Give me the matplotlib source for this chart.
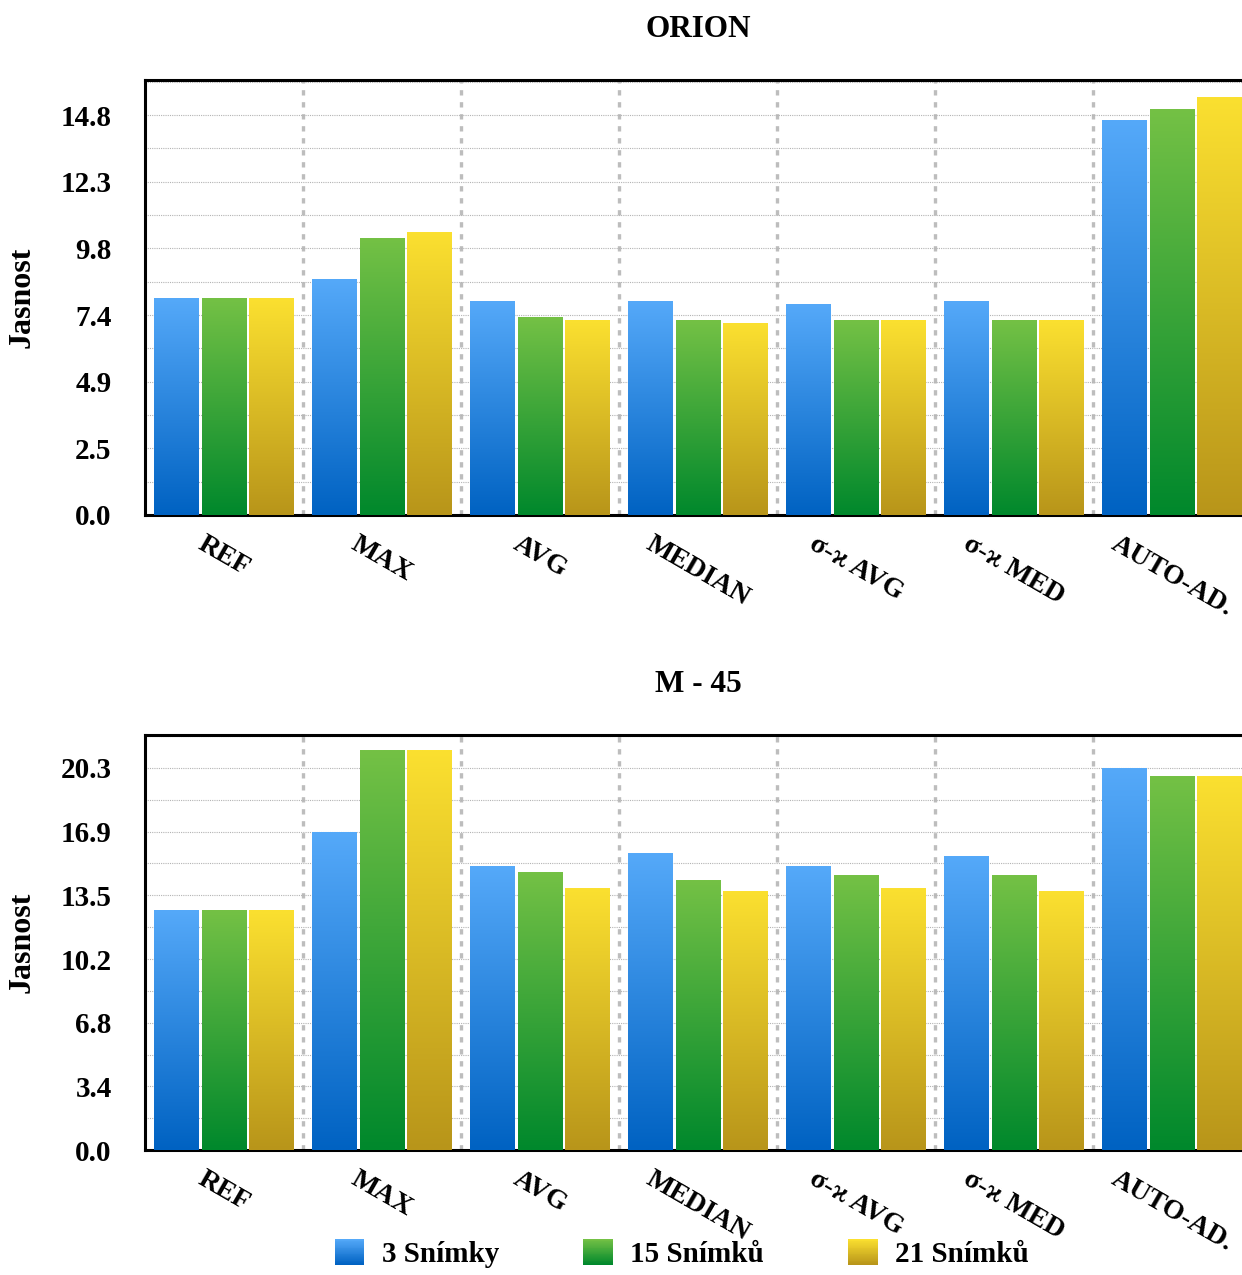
import numpy as np
import matplotlib
matplotlib.use('Agg')
import matplotlib.pyplot as plt
from matplotlib.colors import LinearSegmentedColormap
from matplotlib.patches import Rectangle, Patch
from matplotlib.legend_handler import HandlerBase

# ====================
# DATOS
# ====================
categories = ['REF', 'MAX', 'AVG', 'MEDIAN', 'σ-ϰ AVG', 'σ-ϰ MED', 'AUTO-AD.']
series_names = ['3 Snímky', '15 Snímků', '21 Snímků']

orion_3 = [8.0, 8.7, 7.9, 7.9, 7.8, 7.9, 14.6]
orion_15 = [8.0, 10.25, 7.3, 7.2, 7.2, 7.2, 15.0]
orion_21 = [8.0, 10.45, 7.2, 7.1, 7.2, 7.2, 15.45]

m45_3 = [12.75, 16.85, 15.05, 15.75, 15.05, 15.6, 20.25]
m45_15 = [12.75, 21.25, 14.75, 14.3, 14.6, 14.6, 19.85]
m45_21 = [12.75, 21.25, 13.9, 13.75, 13.9, 13.75, 19.85]

orion_ticks = ['0.0', '2.5', '4.9', '7.4', '9.8', '12.3', '14.8']
m45_ticks = ['0.0', '3.4', '6.8', '10.2', '13.5', '16.9', '20.3']

# ====================
# ESTILO
# ====================
FONT = ['Liberation Serif', 'DejaVu Serif']
plt.rcParams['font.family'] = FONT
plt.rcParams['font.weight'] = 'bold'

cmaps = [
    LinearSegmentedColormap.from_list('azul', ['#0062C2', '#55A9F9']),
    LinearSegmentedColormap.from_list('verde', ['#00882C', '#74C145']),
    LinearSegmentedColormap.from_list('amarillo', ['#B8951A', '#FBE030']),
]
grad = np.linspace(0, 1, 256).reshape(-1, 1)


class GradHandler(HandlerBase):
    def __init__(self, cmap):
        super().__init__()
        self.cmap = cmap

    def create_artists(self, legend, orig_handle, xdescent, ydescent,
                       width, height, fontsize, trans):
        n = 30
        arts = []
        for k in range(n):
            r = Rectangle((-xdescent, -ydescent + height * k / n), width,
                          height / n * 1.05, facecolor=self.cmap(k / (n - 1)),
                          lw=0, transform=trans)
            arts.append(r)
        return arts


def draw_panel(ax, title, series, tick_labels, ymax_tick, ytop):
    x = np.arange(len(categories))
    step = 0.30
    width = 0.28
    for i, vals in enumerate(series):
        bars = ax.bar(x + (i - 1) * step, vals, width, color='none', lw=0, zorder=3)
        for b in bars:
            x0 = b.get_x()
            ax.imshow(grad, extent=[x0, x0 + b.get_width(), 0, b.get_height()],
                      origin='lower', aspect='auto', cmap=cmaps[i], zorder=3,
                      interpolation='bilinear')

    ax.set_xlim(-0.5, len(categories) - 0.5)
    ax.set_ylim(0, ytop)

    major = np.linspace(0, ymax_tick, len(tick_labels))
    ax.set_yticks(major)
    ax.set_yticklabels(tick_labels)
    minor = np.arange(0, ytop, ymax_tick / (len(tick_labels) - 1) / 2)
    ax.set_yticks(minor, minor=True)
    ax.grid(axis='y', which='both', color='#b4b4b4', linestyle=(0, (1, 1)), lw=0.8, zorder=0)

    for s in x[:-1]:
        ax.axvline(s + 0.5, color='#bdbdbd', lw=2.4, linestyle=(0, (1.6, 2.0)), zorder=1)

    ax.set_xticks(x)
    ax.set_xticklabels(categories, rotation=-30, ha='center', va='top')
    ax.tick_params(axis='x', length=0, pad=12, labelsize=20)
    ax.tick_params(axis='y', which='both', length=0, pad=24, labelsize=21)
    for lab in ax.get_xticklabels() + ax.get_yticklabels():
        lab.set_fontweight('bold')

    for sp in ['left', 'top', 'bottom']:
        ax.spines[sp].set_linewidth(2.2)
        ax.spines[sp].set_color('black')
    ax.spines['right'].set_visible(False)

    ax.set_title(title, fontsize=22.5, fontweight='bold', pad=31)
    ax.set_ylabel('Jasnost', fontsize=23, fontweight='bold')
    ax.yaxis.set_label_coords(-0.098, 0.5)


# ====================
# FIGURA
# ====================
fig = plt.figure(figsize=(12.42, 12.75), dpi=100)
ax1 = fig.add_axes([0.1167, 0.5961, 0.8905, 0.3412])
ax2 = fig.add_axes([0.1167, 0.0980, 0.8905, 0.3255])

draw_panel(ax1, 'ORION', [orion_3, orion_15, orion_21], orion_ticks, 14.8, 16.1)
draw_panel(ax2, 'M - 45', [m45_3, m45_15, m45_21], m45_ticks, 20.3, 22.05)

handles = [Patch(label=n) for n in series_names]
fig.legend(handles=handles, labels=series_names, loc='lower center',
           bbox_to_anchor=(0.549, -0.015), ncol=3, frameon=False,
           handlelength=1.0, handleheight=1.0,
           handletextpad=0.6, columnspacing=2.9,
           handler_map={h: GradHandler(c) for h, c in zip(handles, cmaps)},
           prop={'weight': 'bold', 'size': 21, 'family': FONT})

fig.savefig('out.png', dpi=100)
